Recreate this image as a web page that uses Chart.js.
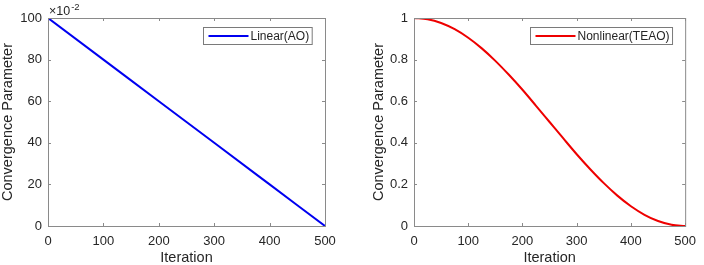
<!DOCTYPE html>
<html>
<head>
<meta charset="utf-8">
<script src="https://cdn.jsdelivr.net/npm/chart.js@4"></script>
<style>
  body { margin: 0; background: #fff; }
  #wrap { display: flex; width: 704px; height: 265px; }
  canvas { display: block; }
</style>
</head>
<body>
<div id="wrap">
  <canvas id="leftChart" width="352" height="265"></canvas>
  <canvas id="rightChart" width="352" height="265"></canvas>
</div>
<script>
// Données
const iterLin = [0, 100, 200, 300, 400, 500];
const paramLin = [100, 80, 60, 40, 20, 0];           // x 10^-2

const iterNl = [0, 25, 50, 75, 100, 125, 150, 175, 200, 225, 250,
                275, 300, 325, 350, 375, 400, 425, 450, 475, 500];
const paramNl = [1.000, 0.994, 0.976, 0.946, 0.905, 0.854, 0.794, 0.727, 0.655, 0.578, 0.500,
                 0.422, 0.345, 0.273, 0.206, 0.146, 0.095, 0.054, 0.024, 0.006, 0.000];

const xTicks = [0, 100, 200, 300, 400, 500];
const yTicksLin = [0, 20, 40, 60, 80, 100];
const yTicksNl = [0, 0.2, 0.4, 0.6, 0.8, 1];

const FONT = "Arial, 'Liberation Sans', sans-serif";
const TXT = '#262626', AXE = '#8a8a8a';
const BLEU = '#0000f0', ROUGE = '#ee0000';

// cadre + graduations intérieures + légende (style MATLAB)
const boxPlugin = {
  id: 'box',
  afterDraw(chart, args, opts) {
    const { ctx, chartArea: a, scales } = chart;
    ctx.save();
    ctx.strokeStyle = AXE;
    ctx.lineWidth = 1;
    ctx.strokeRect(a.left + 0.5, a.top + 0.5, a.right - a.left, a.bottom - a.top);
    const tl = 3;
    ctx.beginPath();
    scales.x.ticks.forEach(t => {
      const px = Math.round(scales.x.getPixelForValue(t.value)) + 0.5;
      ctx.moveTo(px, a.bottom); ctx.lineTo(px, a.bottom - tl);
      ctx.moveTo(px, a.top); ctx.lineTo(px, a.top + tl);
    });
    scales.y.ticks.forEach(t => {
      const py = Math.round(scales.y.getPixelForValue(t.value)) + 0.5;
      ctx.moveTo(a.left, py); ctx.lineTo(a.left + tl, py);
      ctx.moveTo(a.right, py); ctx.lineTo(a.right - tl, py);
    });
    ctx.stroke();

    // légende
    const ds = chart.data.datasets[0];
    ctx.font = '12px ' + FONT;
    const tw = ctx.measureText(ds.label).width;
    const w = 5 + 40 + 2 + tw + 3, h = 17;
    const bx = Math.round(a.right - 13 - w) + 0.5, by = a.top + 9.5;
    ctx.fillStyle = '#fff';
    ctx.fillRect(bx, by, w, h);
    ctx.strokeStyle = '#7a7a7a';
    ctx.strokeRect(bx, by, w, h);
    ctx.strokeStyle = ds.borderColor;
    ctx.lineWidth = 2;
    ctx.beginPath();
    ctx.moveTo(bx + 5, by + h / 2); ctx.lineTo(bx + 45, by + h / 2);
    ctx.stroke();
    ctx.fillStyle = TXT;
    ctx.textBaseline = 'middle';
    ctx.fillText(ds.label, bx + 47, by + h / 2 + 0.5);

    // exposant
    if (opts.expo) {
      ctx.font = '12.5px ' + FONT;
      ctx.fillText('\u00d710', a.left + 1, a.top - 6);
      const w10 = ctx.measureText('\u00d710').width;
      ctx.font = '9.5px ' + FONT;
      ctx.fillText('-2', a.left + 2 + w10, a.top - 11);
    }
    ctx.restore();
  }
};

function makeChart(id, xs, ys, label, color, yTicks, yMax, axisW, padR, titlePad, expo) {
  return new Chart(document.getElementById(id), {
    type: 'line',
    data: {
      datasets: [{
        label: label,
        data: xs.map((x, i) => ({ x: x, y: ys[i] })),
        borderColor: color,
        borderWidth: 2,
        pointRadius: 0,
        cubicInterpolationMode: 'monotone',
        fill: false
      }]
    },
    options: {
      responsive: false,
      animation: false,
      layout: { padding: { top: 18, right: padR, left: 0, bottom: 0 } },
      plugins: { legend: { display: false }, tooltip: { enabled: false }, box: { expo: expo } },
      scales: {
        x: {
          type: 'linear', min: 0, max: 500,
          afterBuildTicks: s => { s.ticks = xTicks.map(v => ({ value: v })); },
          afterFit: s => { s.height = 39; },
          grid: { display: false, drawTicks: false },
          border: { display: false },
          ticks: { padding: 8, color: TXT, font: { family: FONT, size: 13 }, maxRotation: 0 },
          title: { display: true, text: 'Iteration', color: TXT,
                   font: { family: FONT, size: 14.5, lineHeight: 1 }, padding: { top: 0, bottom: 0 } }
        },
        y: {
          min: 0, max: yMax,
          afterBuildTicks: s => { s.ticks = yTicks.map(v => ({ value: v })); },
          afterFit: s => { s.width = axisW; },
          grid: { display: false, drawTicks: false },
          border: { display: false },
          ticks: { padding: 6, color: TXT, font: { family: FONT, size: 13 },
                   callback: v => String(Number(v.toFixed(2))) },
          title: { display: true, text: 'Convergence Parameter', color: TXT,
                   font: { family: FONT, size: 14.5, lineHeight: 1 },
                   padding: { top: titlePad, bottom: 0 } }
        }
      }
    },
    plugins: [boxPlugin]
  });
}

makeChart('leftChart', iterLin, paramLin, 'Linear(AO)', BLEU, yTicksLin, 100, 48, 27, 1, true);
makeChart('rightChart', iterNl, paramNl, 'Nonlinear(TEAO)', ROUGE, yTicksNl, 1, 62, 12, 20, false);
</script>
</body>
</html>
